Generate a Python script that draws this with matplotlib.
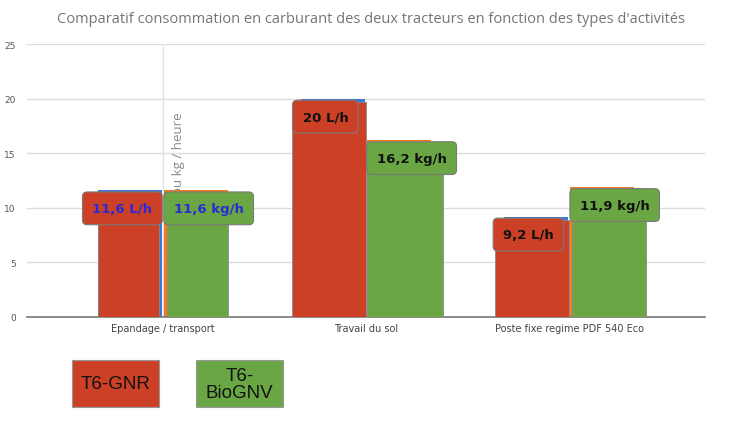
import numpy as np
import matplotlib.pyplot as plt
from matplotlib.patches import Rectangle

# data
categories = ['Epandage / transport', 'Travail du sol', 'Poste fixe regime PDF 540 Eco']
gnr = [11.6, 20.0, 9.2]          # original bars (blue)
biognv = [11.6, 16.2, 11.9]      # original bars (orange)
gnr_cover = [11.4, 19.7, 8.9]    # red shapes pasted over
bio_cover = [11.4, 16.0, 11.8]   # green shapes pasted over
gnr_labels = ['11,6 L/h', '20 L/h', '9,2 L/h']
bio_labels = ['11,6 kg/h', '16,2 kg/h', '11,9 kg/h']
label_colors = ['#2a2ad8', '#111111', '#111111']
legend_names = ['T6-GNR', 'T6-\nBioGNV']

red = '#cc4126'
green = '#6aa744'
blue = '#3d78d8'
orange = '#f47b20'
gray_txt = '#757575'

fig = plt.figure(figsize=(7.47, 4.27), dpi=100)
ax = fig.add_axes([0.0361, 0.2553, 0.9077, 0.6393])

x = np.arange(len(categories))
w = 0.315
ax.bar(x - 0.163, gnr, w, color=blue, zorder=2)
ax.bar(x + 0.163, biognv, w, color=orange, zorder=2)

# overlay shapes
cover_w_red = [0.305, 0.365, 0.365]
cover_w_green = [0.305, 0.37, 0.36]
cover_off_red = [-0.17, -0.182, -0.182]
cover_off_green = [0.17, 0.192, 0.197]
for i in range(len(categories)):
    ax.bar(x[i] + cover_off_red[i], gnr_cover[i], cover_w_red[i], color=red,
           edgecolor='#8a8a8a', linewidth=0.6, zorder=3)
    ax.bar(x[i] + cover_off_green[i], bio_cover[i], cover_w_green[i], color=green,
           edgecolor='#8a8a8a', linewidth=0.6, zorder=3)

for i in range(len(categories)):
    ax.text(x[i] - 0.2, gnr[i] - 1.65, gnr_labels[i], ha='center', va='center',
            fontsize=9.5, fontweight='bold', color=label_colors[i], zorder=6,
            bbox=dict(boxstyle='round,pad=0.75,rounding_size=0.35', fc=red, ec='#7a7a7a', lw=0.8))
    ax.text(x[i] + 0.225, biognv[i] - 1.65, bio_labels[i], ha='center', va='center',
            fontsize=9.5, fontweight='bold', color=label_colors[i], zorder=6,
            bbox=dict(boxstyle='round,pad=0.75,rounding_size=0.35', fc=green, ec='#7a7a7a', lw=0.8))

# remnant of the hidden y axis title
ax.text(0.075, 11.3, 'ou kg / heure', rotation=90, ha='center', va='bottom',
        fontsize=9.5, color='#8a8a8a', family='Open Sans', zorder=4)

ax.set_xlim(-0.67, 2.67)
ax.set_ylim(0, 25)
ax.set_yticks([0, 5, 10, 15, 20, 25])
ax.set_xticks(x)
ax.set_xticklabels(categories, fontsize=7, color='#444444')
ax.tick_params(axis='y', labelsize=6.5, labelcolor='#555555', length=0, pad=8)
ax.tick_params(axis='x', length=0, pad=4)
ax.grid(axis='y', color='#dddddd', linewidth=1, zorder=0)
ax.axvline(0, color='#e2e2e2', linewidth=1, zorder=1)
ax.set_axisbelow(True)
for s in ['top', 'right', 'left']:
    ax.spines[s].set_visible(False)
ax.spines['bottom'].set_color('#777777')
ax.spines['bottom'].set_linewidth(1.2)

fig.text(0.496, 0.955, "Comparatif consommation en carburant des deux tracteurs en fonction des types d'activités",
         ha='center', va='center', fontsize=10.5, color=gray_txt, family='Open Sans')

# pasted legend boxes
leg_colors = [red, green]
leg_x = [0.0964, 0.2624]
for i in range(2):
    fig.patches.append(Rectangle((leg_x[i], 0.0445), 0.1165, 0.1101, transform=fig.transFigure,
                                 facecolor=leg_colors[i], edgecolor='#999999', linewidth=0.8))
    fig.text(leg_x[i] + 0.0583, 0.0995, legend_names[i], ha='center', va='center',
             fontsize=13.5, color='#111111', family='Liberation Sans', linespacing=1.0)

fig.savefig('out.png', dpi=100)
